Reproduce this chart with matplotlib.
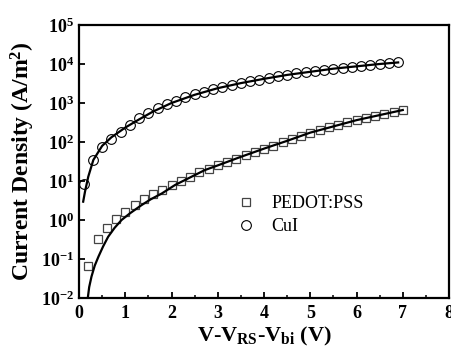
import numpy as np
import matplotlib
matplotlib.use('Agg')
import matplotlib.pyplot as plt

plt.rcParams['font.family'] = 'Liberation Serif'
plt.rcParams['mathtext.fontset'] = 'custom'
plt.rcParams['mathtext.rm'] = 'Liberation Serif'
plt.rcParams['mathtext.bf'] = 'Liberation Serif:bold'
plt.rcParams['mathtext.default'] = 'bf'

# CuI data (log10 of J in A/m^2)
v_cui = [0.1, 0.3, 0.5, 0.7, 0.9, 1.1, 1.3, 1.5, 1.7, 1.9, 2.1, 2.3, 2.5, 2.7,
         2.9, 3.1, 3.3, 3.5, 3.7, 3.9, 4.1, 4.3, 4.5, 4.7, 4.9, 5.1, 5.3, 5.5,
         5.7, 5.9, 6.1, 6.3, 6.5, 6.7, 6.9]
logj_cui = [0.92, 1.55, 1.86, 2.07, 2.26, 2.44, 2.61, 2.75, 2.86, 2.97, 3.06, 3.15,
            3.23, 3.29, 3.35, 3.41, 3.46, 3.51, 3.56, 3.60, 3.64, 3.68, 3.72, 3.76,
            3.79, 3.82, 3.85, 3.88, 3.91, 3.93, 3.95, 3.97, 4.00, 4.02, 4.04]

# PEDOT:PSS data
v_pedot = [0.2, 0.4, 0.6, 0.8, 1.0, 1.2, 1.4, 1.6, 1.8, 2.0, 2.2, 2.4, 2.6, 2.8,
           3.0, 3.2, 3.4, 3.6, 3.8, 4.0, 4.2, 4.4, 4.6, 4.8, 5.0, 5.2, 5.4, 5.6,
           5.8, 6.0, 6.2, 6.4, 6.6, 6.8, 7.0]
logj_pedot = [-1.17, -0.49, -0.20, 0.03, 0.21, 0.38, 0.53, 0.66, 0.78, 0.89, 0.99,
              1.11, 1.22, 1.31, 1.40, 1.49, 1.57, 1.66, 1.745, 1.83, 1.91, 1.99,
              2.08, 2.16, 2.24, 2.31, 2.38, 2.44, 2.50, 2.56, 2.61, 2.67, 2.72,
              2.77, 2.82]

# fit curves
v_fit_cui = [0.09, 0.13, 0.2, 0.31, 0.5, 0.7, 1.0, 1.3, 1.6, 2.0, 2.5, 3.0, 3.5,
             4.0, 4.5, 5.0, 5.5, 6.0, 6.5, 6.9]
logj_fit_cui = [0.47, 0.73, 1.11, 1.54, 1.90, 2.12, 2.37, 2.58, 2.78, 3.00, 3.21,
                3.38, 3.51, 3.62, 3.72, 3.80, 3.88, 3.94, 4.00, 4.04]
v_fit_pedot = [0.19, 0.22, 0.27, 0.34, 0.42, 0.52, 0.63, 0.77, 0.92, 1.1, 1.35,
               1.55, 1.79, 2.08, 2.4, 2.72, 3.0, 3.5, 4.0, 4.5, 5.0, 5.5, 6.0,
               6.5, 7.0]
logj_fit_pedot = [-2.0, -1.72, -1.45, -1.17, -0.94, -0.68, -0.43, -0.20, 0.0,
                  0.17, 0.38, 0.53, 0.68, 0.90, 1.09, 1.28, 1.40, 1.62, 1.83,
                  2.03, 2.24, 2.40, 2.56, 2.69, 2.82]

fig = plt.figure(figsize=(4.52, 3.53), dpi=100)
ax = fig.add_axes([0.1748, 0.1558, 0.8186, 0.7734])

ax.plot(v_pedot, 10 ** np.array(logj_pedot), 's', mfc='none', mec='#444444',
        ms=6.2, mew=0.9, label='PEDOT:PSS')
ax.plot(v_cui, 10 ** np.array(logj_cui), 'o', mfc='none', mec='black',
        ms=7, mew=0.8, label='CuI')
ax.plot(v_fit_pedot, 10 ** np.array(logj_fit_pedot), '-', color='black', lw=1.6)
ax.plot(v_fit_cui, 10 ** np.array(logj_fit_cui), '-', color='black', lw=1.6)

ax.set_yscale('log')
ax.set_xlim(0, 8)
ax.set_ylim(1e-2, 1e5)

ax.set_xticks(range(9))
ax.set_xticklabels([str(i) for i in range(9)], fontsize=13, fontweight='bold')
ax.set_xticks(np.arange(0.5, 8, 1), minor=True)
yt = [10.0 ** k for k in range(-2, 6)]
ax.set_yticks(yt)
ax.set_yticklabels([r'$\mathbf{10^{%d}}$' % k for k in range(-2, 6)], fontsize=13)
ax.yaxis.set_minor_locator(matplotlib.ticker.NullLocator())
ax.tick_params(which='major', direction='in', length=4, width=1.3, top=False, right=False)
ax.tick_params(which='minor', direction='in', length=2.5, width=1.1, top=False, right=False)
ax.tick_params(axis='x', pad=5)
for s in ax.spines.values():
    s.set_linewidth(1.6)

ax.set_xlabel(r'V-V$_{RS}$-V$_{bi}$ (V)', fontsize=16, fontweight='bold', labelpad=2)
ax.set_ylabel(r'Current Density (A/m$^{2}$)', fontsize=17, fontweight='bold', labelpad=3)

ax.legend(loc='upper left', bbox_to_anchor=(0.403, 0.41), frameon=False,
          fontsize=13, handlelength=1.0, handletextpad=0.9, labelspacing=0.35,
          borderpad=0)

fig.savefig('out.png', dpi=100)
